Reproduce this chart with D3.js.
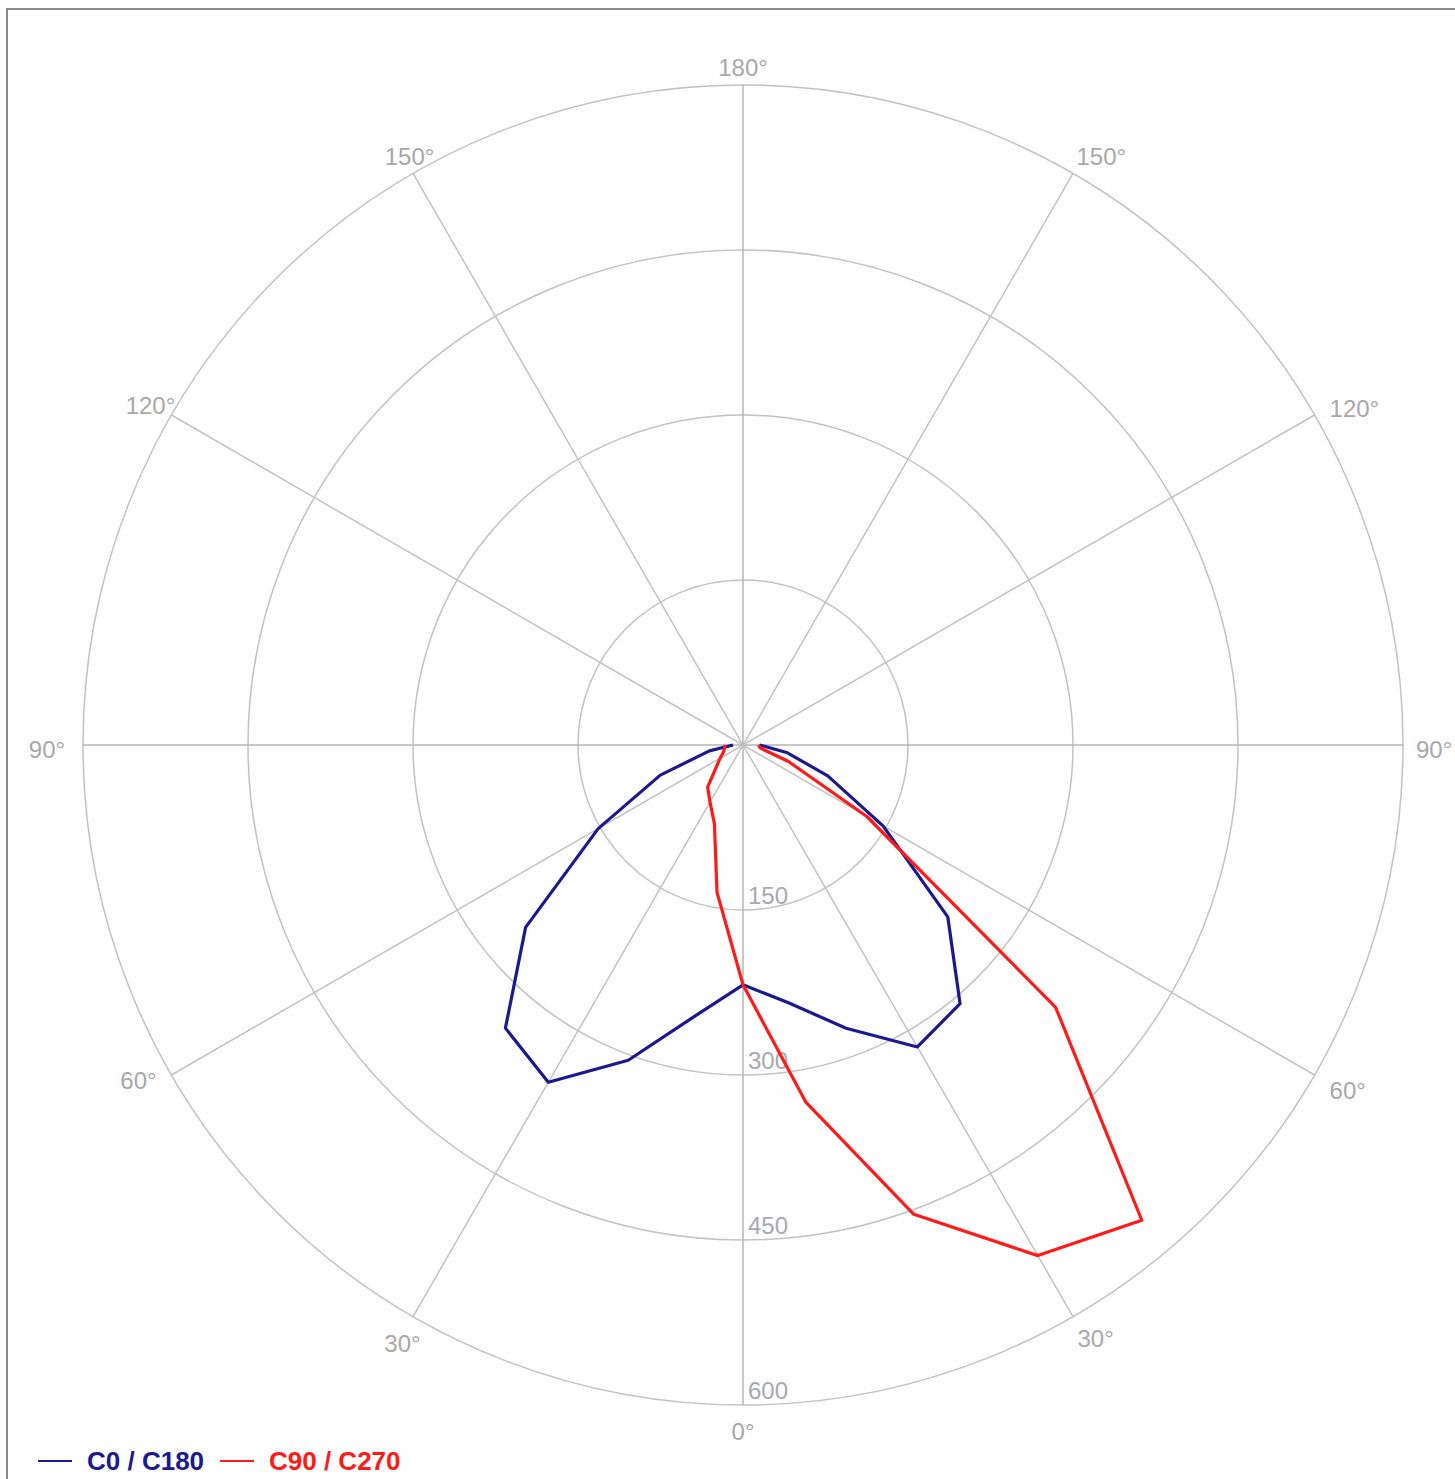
<!DOCTYPE html>
<html><head><meta charset="utf-8">
<script src="https://cdn.jsdelivr.net/npm/d3@7/dist/d3.min.js"></script>
<style>html,body{margin:0;padding:0;background:#fff;overflow:hidden} svg{display:block;}</style>
</head><body>
<svg id="chart" width="1455" height="1479"></svg>
<script>
// gamma angles (degrees from nadir)
const gammas = [0, 10, 20, 30, 40, 50, 60, 70, 80, 90];
// blue series C0 / C180 (left half, right half), cd/klm
const bluePlaneLeft  = [218, 250, 305, 354, 336, 258, 152, 80, 31, 9];
const bluePlaneRight = [218, 238, 274, 317, 307, 243, 147, 82, 41, 15];
// red series C90 / C270
const redPlaneLeft   = [218, 136, 76, 60, 50, 32, 24, 19, 17, 16];
const redPlaneRight  = [218, 330, 454, 536, 564, 371, 130, 44, 16, 14];
// axes
const ringValues = [150, 300, 450, 600];
const angleTicks = [0, 30, 60, 90, 120, 150, 180];
const legendNames = ["C0 / C180", "C90 / C270"];

const W = 1455, H = 1479;
const cx = 743, cy = 745, R = 660;
const svg = d3.select("#chart");
svg.append("rect").attr("width", W).attr("height", H).attr("fill", "#fefefe");

const g = svg.append("g").attr("transform", `translate(${cx},${cy})`);
const r = d3.scaleLinear().domain([0, 600]).range([0, R]);
const rad = d => d * Math.PI / 180;

// rings
g.selectAll("circle.ring").data(ringValues).join("circle")
  .attr("class", "ring").attr("r", d => r(d))
  .attr("fill", "none").attr("stroke", "#c2c2c2").attr("stroke-width", 1.5);

// spokes (both halves)
const spokeAngles = [];
angleTicks.forEach(a => { spokeAngles.push(180 - a); if (a !== 0 && a !== 180) spokeAngles.push(180 + a); });
g.selectAll("line.spoke").data(spokeAngles).join("line")
  .attr("class", "spoke")
  .attr("x1", 0).attr("y1", 0)
  .attr("x2", d => d3.pointRadial(rad(d), R)[0])
  .attr("y2", d => d3.pointRadial(rad(d), R)[1])
  .attr("stroke", d => (d === 90 || d === 270 || d === 0 || d === 180) ? "#b4b4b4" : "#c2c2c2")
  .attr("stroke-width", 1.5);

// angle labels (layout nudges per side to follow the original renderer)
const leftNudge  = { 30: [-3, 3], 60: [-20, -10], 90: [-21, 0], 120: [-8, -3], 150: [4, -2] };
const rightNudge = { 30: [-3, -2], 60: [2, 0], 90: [-2, 0], 120: [2, 0], 150: [-4, -2] };
const labelData = [];
angleTicks.forEach(a => {
  labelData.push({ a, screen: 180 - a, side: a === 0 || a === 180 ? "mid" : "right" });
  if (a !== 0 && a !== 180) labelData.push({ a, screen: 180 + a, side: "left" });
});
const nudge = d => d.side === "left" ? leftNudge[d.a] : d.side === "right" ? rightNudge[d.a] : [0, 0];
g.selectAll("text.alabel").data(labelData).join("text")
  .attr("class", "alabel")
  .attr("x", d => d3.pointRadial(rad(d.screen), R + 15)[0] + nudge(d)[0])
  .attr("y", d => d3.pointRadial(rad(d.screen), R + 15)[1] + 13 + 7 * Math.cos(rad(d.a)) + nudge(d)[1])
  .attr("text-anchor", d => d.side === "right" ? "start" : "middle")
  .attr("font-family", "Liberation Sans, Arial, sans-serif")
  .attr("font-size", 24).attr("fill", "#a8a8a8")
  .text(d => d.a + "°");

// radial value labels
g.selectAll("text.rlabel").data(ringValues).join("text")
  .attr("class", "rlabel")
  .attr("x", 5).attr("y", d => r(d) - 6)
  .attr("font-family", "Liberation Sans, Arial, sans-serif")
  .attr("font-size", 24).attr("fill", "#a8a8b0")
  .text(d => d);

// series
function seriesPoints(left, right) {
  const pts = [];
  for (let i = gammas.length - 1; i >= 0; i--) pts.push({ ang: 180 + gammas[i], v: left[i] });
  for (let i = 0; i < gammas.length; i++) pts.push({ ang: 180 - gammas[i], v: right[i] });
  return pts;
}
const line = d3.lineRadial().angle(d => rad(d.ang)).radius(d => r(d.v));
const series = [
  { name: legendNames[0], color: "#1a1a8e", pts: seriesPoints(bluePlaneLeft, bluePlaneRight) },
  { name: legendNames[1], color: "#ff1a1a", pts: seriesPoints(redPlaneLeft, redPlaneRight) }
];
g.selectAll("path.series").data(series).join("path")
  .attr("class", "series")
  .attr("d", d => line(d.pts))
  .attr("fill", "none").attr("stroke", d => d.color)
  .attr("stroke-width", 3.2).attr("stroke-linejoin", "round");

// frame (top and left edges)
svg.append("line").attr("x1", 6).attr("y1", 9).attr("x2", W).attr("y2", 9).attr("stroke", "#8a8a8a").attr("stroke-width", 2);
svg.append("line").attr("x1", 7).attr("y1", 8).attr("x2", 7).attr("y2", H).attr("stroke", "#8a8a8a").attr("stroke-width", 2);

// legend
const legend = svg.append("g").attr("transform", "translate(0,1461)");
const lx = [38, 220];
series.forEach((s, i) => {
  legend.append("line").attr("x1", lx[i]).attr("x2", lx[i] + 34).attr("y1", 0).attr("y2", 0)
    .attr("stroke", s.color).attr("stroke-width", 2);
  legend.append("text").attr("x", lx[i] + 49).attr("y", 9)
    .attr("font-family", "Liberation Sans, Arial, sans-serif").attr("font-weight", "bold")
    .attr("font-size", 26).attr("fill", s.color).text(s.name);
});
</script>
</body></html>
